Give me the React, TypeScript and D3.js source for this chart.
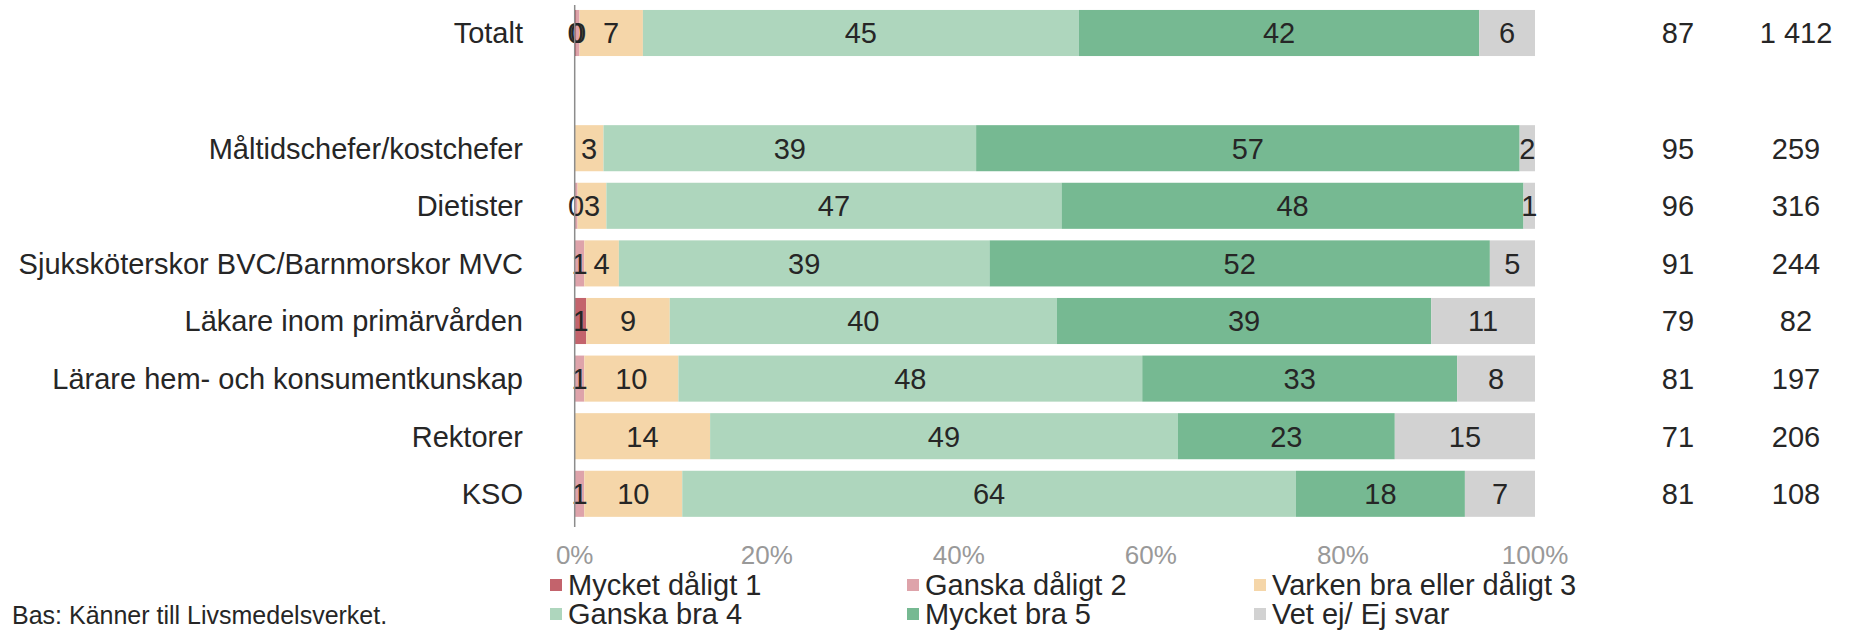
import * as d3 from 'd3';
import React from 'react';

const categories = [
  'Totalt',
  '',
  'Måltidschefer/kostchefer',
  'Dietister',
  'Sjuksköterskor BVC/Barnmorskor MVC',
  'Läkare inom primärvården',
  'Lärare hem- och konsumentkunskap',
  'Rektorer',
  'KSO',
];

// percent per group (labels are the rounded values)
const mycketDaligt = [0.2, 0, 0, 0, 0, 1.2, 0, 0, 0];
const ganskaDaligt = [0.3, 0, 0, 0.3, 1.0, 0, 1.0, 0, 1.0];
const varken = [6.6, 0, 3.0, 3.0, 3.6, 8.7, 9.8, 14.1, 10.2];
const ganskaBra = [45.4, 0, 38.8, 47.4, 38.6, 40.3, 48.3, 48.7, 63.9];
const mycketBra = [41.7, 0, 56.6, 48.1, 52.1, 39.0, 32.8, 22.6, 17.6];
const vetEj = [5.8, 0, 1.6, 1.2, 4.7, 10.8, 8.1, 14.6, 7.3];

const sharePositive = ['87', '', '95', '96', '91', '79', '81', '71', '81'];
const baseN = ['1 412', '', '259', '316', '244', '82', '197', '206', '108'];

const seriesNames = [
  'Mycket dåligt 1',
  'Ganska dåligt 2',
  'Varken bra eller dåligt 3',
  'Ganska bra 4',
  'Mycket bra 5',
  'Vet ej/ Ej svar',
];
const seriesColors = ['#c3636c', '#dea3aa', '#f5d6a9', '#aed6bd', '#76b992', '#d2d2d2'];
const xTicks = [0, 20, 40, 60, 80, 100];

const W = 1852;
const H = 630;
const FONT = '"Liberation Sans", Arial, sans-serif';

export default function App() {
  const series = [mycketDaligt, ganskaDaligt, varken, ganskaBra, mycketBra, vetEj];
  const keys = categories.map((_, i) => String(i));

  const x = d3.scaleLinear().domain([0, 100]).range([574.7, 1535]);
  const y = d3.scaleBand<string>().domain(keys).range([4.2, 522.6]).paddingInner(0.2).paddingOuter(0.1);

  const table = keys.map((k, i) => {
    const row: any = { key: k };
    series.forEach((s, j) => (row['s' + j] = s[i]));
    return row;
  });
  const stacked = d3.stack<any>().keys(series.map((_, j) => 's' + j))(table);

  const legendCols = [550, 907, 1254];
  const legendRows = [585, 614];

  return (
    <svg width={W} height={H} style={{ position: 'absolute', left: 0, top: 0, fontFamily: FONT }}>
      <rect width={W} height={H} fill="#fff" />
      {stacked.map((layer, j) => (
        <g key={j} fill={seriesColors[j]}>
          {layer.map((d, i) =>
            d[1] - d[0] > 0 ? (
              <rect key={i} x={x(d[0])} y={y(keys[i])} width={x(d[1]) - x(d[0])} height={y.bandwidth()} />
            ) : null
          )}
        </g>
      ))}
      {stacked.map((layer, j) => (
        <g key={'l' + j} fill="#262626" fontSize={29} textAnchor="middle">
          {layer.map((d, i) =>
            d[1] - d[0] > 0 ? (
              <text key={i} x={x((d[0] + d[1]) / 2)} y={(y(keys[i]) ?? 0) + y.bandwidth() / 2} dy="0.36em">
                {Math.round(d[1] - d[0])}
              </text>
            ) : null
          )}
        </g>
      ))}
      <line x1={x(0)} x2={x(0)} y1={5} y2={527} stroke="#8c8c8c" strokeWidth={1.5} />
      <g fill="#262626" fontSize={29} textAnchor="end">
        {categories.map((c, i) => (
          <text key={i} x={523} y={(y(keys[i]) ?? 0) + y.bandwidth() / 2} dy="0.36em">
            {c}
          </text>
        ))}
      </g>
      <g fill="#262626" fontSize={29} textAnchor="middle">
        {sharePositive.map((v, i) => (
          <text key={'a' + i} x={1678} y={(y(keys[i]) ?? 0) + y.bandwidth() / 2} dy="0.36em">
            {v}
          </text>
        ))}
        {baseN.map((v, i) => (
          <text key={'b' + i} x={1796} y={(y(keys[i]) ?? 0) + y.bandwidth() / 2} dy="0.36em">
            {v}
          </text>
        ))}
      </g>
      <g fill="#999" fontSize={26} textAnchor="middle">
        {xTicks.map((t) => (
          <text key={t} x={x(t)} y={555} dy="0.36em">
            {t}%
          </text>
        ))}
      </g>
      <g fontSize={29} fill="#262626">
        {seriesNames.map((name, j) => {
          const lx = legendCols[j % 3];
          const ly = legendRows[Math.floor(j / 3)];
          return (
            <g key={name}>
              <rect x={lx} y={ly - 6} width={12} height={12} fill={seriesColors[j]} />
              <text x={lx + 18} y={ly} dy="0.36em">
                {name}
              </text>
            </g>
          );
        })}
      </g>
      <text x={12} y={615} dy="0.36em" fontSize={25} fill="#262626">
        Bas: Känner till Livsmedelsverket.
      </text>
    </svg>
  );
}
